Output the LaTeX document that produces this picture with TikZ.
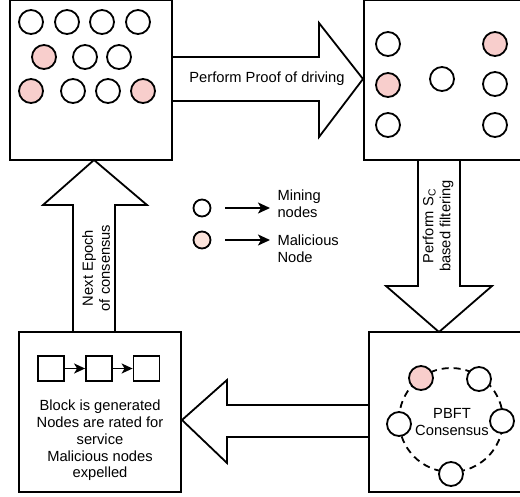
\documentclass[tikz,border=0pt]{standalone}
\usepackage{fontspec}
\setmainfont{Liberation Sans}
\usetikzlibrary{arrows.meta}
\definecolor{malicious}{HTML}{F8CECC}
\definecolor{maliciouslight}{HTML}{FBE3DB}
\begin{document}
\begin{tikzpicture}[x=1pt,y=-1pt,
  every node/.style={font=\fontsize{14.7}{17}\selectfont},
  stage/.style={draw, line width=1.8pt, minimum width=162pt, minimum height=160pt, inner sep=0pt},
  miner/.style={circle, draw, line width=1.8pt, minimum size=24pt, inner sep=0pt, fill=white},
  bad/.style={miner, fill=malicious},
  bigarrow/.style={draw, line width=1.8pt, fill=white, line join=miter},
  blockbox/.style={draw, line width=1.8pt, minimum width=26pt, minimum height=25pt, inner sep=0pt},
  chainlink/.style={line width=1.8pt, -{Stealth[length=11pt,width=10pt,inset=3pt]}},
  legarrow/.style={line width=1.8pt, -{Stealth[length=12pt,width=11pt,inset=3pt]}},
  ring/.style={draw, circle, line width=1.8pt, dash pattern=on 7pt off 5pt, minimum size=104pt, inner sep=0pt}]
\useasboundingbox (0,0) rectangle (520,496);
\clip (0,0) rectangle (520,496);

% stage boxes
\node[stage] (pool) at (91,80) {};
\node[stage] (candidates) at (445,80) {};
\node[stage] (consensus) at (450,412) {};
\node[stage] (ledger) at (100,412) {};

% block arrows between the stages
\draw[bigarrow] (172,57) -- (319,57) -- (319,23) -- (363,79) -- (319,137) -- (319,101) -- (172,101) -- cycle;
\draw[bigarrow] (418,160) -- (418,286) -- (386,286) -- (439,332) -- (492,286) -- (460,286) -- (460,160) -- cycle;
\draw[bigarrow] (369,405) -- (227,405) -- (227,380) -- (182,420) -- (227,463) -- (227,437) -- (369,437) -- cycle;
\draw[bigarrow] (73,332) -- (73,205) -- (43,205) -- (94,160) -- (147,205) -- (115,205) -- (115,332) -- cycle;

\node (provedriving) at (267,79) {Perform Proof of driving};
\node[rotate=90, align=center] (filtering) at (438,226) {Perform S\textsubscript{C}\\based filtering};
\node[rotate=90, align=center] (nextepoch) at (96,268) {Next Epoch\\of consensus};

% all nodes of the network
\node[miner] (p1) at (31,22) {};
\node[miner] (p2) at (67,22) {};
\node[miner] (p3) at (102,22) {};
\node[miner] (p4) at (138,22) {};
\node[bad]   (p5) at (44,57) {};
\node[miner] (p6) at (85,57) {};
\node[miner] (p7) at (119,57) {};
\node[bad]   (p8) at (31,91) {};
\node[miner] (p9) at (73,91) {};
\node[miner] (p10) at (108,91) {};
\node[bad]   (p11) at (143,91) {};

% nodes kept after proof of driving
\node[miner] (c1) at (388,44) {};
\node[bad]   (c2) at (388,85) {};
\node[miner] (c3) at (388,125) {};
\node[miner] (c4) at (442,79) {};
\node[bad]   (c5) at (495,44) {};
\node[miner] (c6) at (495,84) {};
\node[miner] (c7) at (495,125) {};

% legend
\node[miner, minimum size=17pt] (legmine) at (202,208) {};
\node[miner, minimum size=17pt, fill=maliciouslight] (legbad) at (202,240) {};
\node[anchor=west, align=left] (legminetext) at (274,203.5) {Mining\\nodes};
\node[anchor=west, align=left] (legbadtext) at (274,248.5) {Malicious\\Node};
\draw[legarrow, shorten <=14pt, shorten >=4pt] (legmine.east) -- (legmine.east -| legminetext.west);
\draw[legarrow, shorten <=14pt, shorten >=4pt] (legbad.east) -- (legbad.east -| legbadtext.west);

% PBFT committee
\node[ring] (pbft) at (451,420) {};
\node[bad]   (k1) at (421,378) {};
\node[miner] (k2) at (479,379) {};
\node[miner] (k3) at (399,424) {};
\node[miner] (k4) at (502,421) {};
\node[miner] (k5) at (451,474) {};
\node[align=center] (pbftlabel) at (452,422) {PBFT\\Consensus};

% generated chain of blocks
\node[blockbox] (b1) at (51,368.5) {};
\node[blockbox] (b2) at (99,368.5) {};
\node[blockbox] (b3) at (146.5,368.5) {};
\draw[chainlink] (b1) -- (b2);
\draw[chainlink] (b2) -- (b3);
\node[align=center, font=\fontsize{14.7}{16.8}\selectfont] (outcome) at (100,440.5) {Block is generated\\Nodes are rated for\\service\\Malicious nodes\\expelled};
\end{tikzpicture}
\end{document}
